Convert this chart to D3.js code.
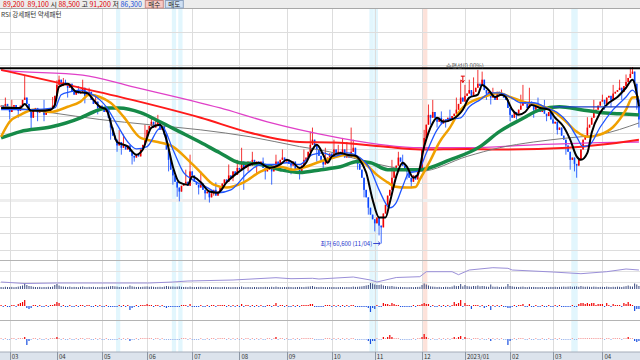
<!DOCTYPE html>
<html>
<head>
<meta charset="utf-8">
<script src="https://cdn.jsdelivr.net/npm/d3@7"></script>
<style>
  body { margin: 0; background: #fff; }
  svg { display: block; font-family: "Noto Sans CJK KR", "DejaVu Sans", sans-serif; }
</style>
</head>
<body>
<svg id="chart"></svg>
<script>
// Daily closes (KRW), one per trading day
const closes = [
  84500,83800,84800,84100,83400,84300,84600,84000,83600,84500,
  85500,85900,84800,83400,82400,83800,84100,83300,83800,83400,
  82900,83800,83400,84100,84500,86200,88100,89000,87900,88600,
  88300,87600,88300,86900,86400,87200,86600,86900,87600,86200,
  86600,86900,85500,84800,85200,84100,84500,83800,83400,84100,
  82400,80700,79300,78600,77600,78200,77200,77700,76900,77600,
  76500,75800,75500,76000,75700,76900,77700,78900,80300,81000,
  81700,80700,81200,81700,80300,81000,79500,76900,75100,73400,
  72400,71300,70300,69600,70600,71000,71300,70600,73100,72400,
  71300,70800,70300,71000,69900,69300,69600,68600,69300,69900,
  68900,69600,70300,71000,71700,71300,72400,72000,73100,72500,
  73700,73400,74800,73700,74300,74800,74100,75100,74400,74800,
  74300,74800,73700,73100,73400,74300,73100,74100,74800,74300,
  75100,75500,74800,75100,74400,74100,74800,73400,73700,73100,
  74100,75100,75500,76500,77700,78600,77600,76900,75800,75100,
  74300,74800,75500,76200,75800,76900,76000,76500,75800,76900,
  75500,76000,75500,76500,77200,75500,74400,73400,72000,69900,
  68600,66800,65600,64800,64100,65100,63700,63400,65800,67300,
  68900,69900,72000,73400,74100,75500,74800,74100,73400,73100,
  72000,71300,72400,71700,73100,73700,76900,78900,81200,82900,
  82400,83400,82400,81700,82400,81400,82100,81700,82400,82100,
  82700,83100,83800,84800,85900,85200,86200,86600,87200,86200,
  86900,87600,88300,87900,89000,87200,86600,86900,85900,86200,
  85500,86900,86200,86600,85900,85500,84100,82900,82400,83400,
  83100,83800,84500,85200,84800,84100,85200,84500,83800,84500,
  84100,83400,83800,83100,82700,83400,82100,81400,81700,80300,
  80700,79300,78600,77600,76500,75100,75500,74400,74100,75100,
  76900,78600,79300,80700,81200,82400,83400,83800,84500,85200,
  85500,84800,85900,86200,85500,86600,86900,87200,87600,86900,
  87900,88600,89300,90000,90400,88300,85500,82100
];

const wickHighs = [[2,85900],[5,85500],[11,89800],[20,85500],[24,86000],[26,88900],[27,89700],[29,89300],
  [30,89000],[33,88100],[36,87900],[38,89000],[41,87600],[44,86400],[55,80300],[57,79500],[67,81200],
  [70,82600],[72,82400],[73,82900],[76,80700],[86,73400],[88,76000],[93,73100],[100,71200],[106,74300],
  [110,75100],[112,77200],[117,76500],[122,75500],[128,76000],[131,76900],[141,76900],[144,80000],
  [145,80700],[151,77200],[155,78600],[157,77700],[159,78900],[161,78200],[163,80700],[164,78600],
  [182,75100],[185,76500],[187,76000],[197,80300],[199,84700],[201,85500],[205,83500],[209,83800],
  [212,85900],[214,89000],[216,88100],[218,89000],[220,89400],[222,90700],[224,90400],[229,87600],
  [233,87300],[242,86400],[243,88100],[246,87600],[250,85900],[253,85500],[257,83500],[261,80700],
  [273,82500],[276,85500],[280,86400],[285,88100],[288,89000],[291,89900],[293,91100],[294,91200]];
const wickLows = [[4,82100],[8,82400],[14,80300],[17,81800],[20,81800],[31,85900],[39,84900],[45,83000],
  [51,78600],[54,76500],[56,76000],[61,74300],[62,74800],[78,73100],[80,70800],[82,68700],[83,67900],
  [92,69100],[95,68200],[97,67700],[99,68900],[102,69600],[108,71400],[113,69900],[115,73100],[119,72600],
  [123,71700],[126,70800],[135,72600],[139,71700],[147,74800],[150,73400],[166,73400],[169,68600],
  [171,65600],[174,62700],[176,62000],[177,60600],[180,67400],[189,71700],[191,70300],[200,81200],
  [203,80700],[207,80700],[226,85500],[228,84700],[237,81800],[240,82100],[248,82400],[254,81800],
  [259,79500],[263,76000],[265,73400],[267,73100],[268,72000],[271,76900],[281,83800],[284,84200],
  [289,85500],[296,83800],[297,80700]];

// Moving averages [day, price]
const ma5 = [[0,84100],[4,84100],[9,84100],[11,84800],[14,83600],[18,83600],[23,83800],[25,84600],[27,87800],
  [31,88300],[35,86900],[40,86700],[43,85500],[46,84300],[49,83800],[52,80300],[54,78200],[59,77400],[63,76000],
  [66,76900],[70,80700],[74,81200],[77,78600],[80,73900],[83,71200],[87,70800],[89,72200],[93,71200],[97,69600],
  [101,69400],[105,71200],[111,73100],[116,74300],[120,74600],[125,73700],[130,74300],[133,75100],[136,74600],
  [139,73700],[142,74600],[145,76900],[147,77700],[150,76000],[152,74600],[154,75700],[158,76300],[161,76000],
  [165,75800],[167,75100],[170,72900],[173,68200],[176,65100],[179,65100],[181,67700],[184,72200],[187,74600],
  [189,73900],[192,72000],[194,72500],[197,77400],[201,81500],[203,82400],[206,81700],[210,82100],[215,83800],
  [218,85900],[222,86400],[224,88100],[227,87200],[230,86000],[233,86400],[235,86000],[238,83800],[241,82900],
  [244,83400],[247,84600],[251,84100],[255,83800],[258,82400],[262,80800],[265,78600],[268,75700],[270,75100],
  [273,76300],[275,79800],[279,83300],[283,85000],[287,86000],[291,87600],[294,89000],[297,84300]];
const ma10 = [[0,83800],[14,83800],[25,84100],[28,86400],[32,86900],[37,87200],[41,86700],[46,85500],[49,84300],
  [54,81200],[59,78200],[63,77000],[68,77400],[73,80300],[75,80800],[80,76900],[85,72900],[89,71700],[96,70300],
  [101,69400],[107,69900],[115,72900],[121,74300],[127,74300],[133,74600],[139,74300],[145,76000],[150,76300],
  [155,75700],[161,76300],[167,75500],[172,73400],[176,69900],[181,66800],[184,67700],[187,70500],[190,72900],
  [194,73100],[198,76300],[203,80300],[208,82100],[214,82400],[218,84300],[223,85500],[228,86700],[232,86700],
  [237,86000],[242,85000],[248,85000],[254,84100],[259,83300],[264,81500],[268,79100],[271,77400],[274,77700],
  [279,80800],[285,83800],[291,86000],[294,87200],[297,85500]];
const ma20 = [[0,79100],[4,81700],[9,82900],[15,83800],[23,83400],[31,84300],[37,85200],[41,86400],[46,86000],
  [51,85000],[57,82600],[65,78900],[73,78200],[80,77400],[87,75100],[93,72900],[99,70800],[105,70300],[113,71200],
  [121,73100],[125,73700],[130,73900],[136,73400],[142,73900],[147,74600],[155,75500],[161,76000],[166,75500],
  [170,74300],[175,72500],[180,71200],[183,70500],[189,70300],[193,70400],[195,71700],[200,75100],[204,78100],
  [209,80700],[214,83800],[218,85000],[224,85900],[232,86700],[237,86000],[243,85200],[250,84600],[256,83800],
  [262,82100],[268,80000],[273,79100],[279,79500],[285,80800],[291,83800],[294,85900],[297,86000]];
const ma60 = [[0,78900],[9,80000],[23,80800],[37,82400],[43,83400],[49,84100],[55,84100],[65,83300],[74,81700],
  [83,80000],[93,78100],[102,76300],[111,74600],[121,74300],[130,73400],[139,72900],[149,73400],[158,73900],
  [166,74800],[172,74600],[180,73400],[189,73400],[195,73400],[209,75100],[223,77400],[232,80000],[242,82100],
  [251,83800],[260,84300],[270,83800],[279,83300],[288,83100],[297,82900]];
const ma120 = [[0,84500],[23,83300],[46,82100],[69,81200],[93,80300],[116,79100],[139,77400],[153,76500],
  [167,75100],[181,73900],[195,73100],[217,75700],[232,77200],[248,78200],[264,78900],[279,79500],[297,81500]];
const ma240 = [[0,90700],[31,88100],[61,85500],[93,82400],[116,79800],[139,78200],[155,78100],[178,77400],
  [195,76900],[217,77000],[232,76900],[264,77200],[279,77700],[297,78600]];
const ma360 = [[0,90600],[9,90400],[38,89800],[61,87800],[102,84100],[124,81700],[155,79100],[178,77700],
  [195,77200],[217,77200],[248,77700],[279,78100],[297,78200]];

// Drawn lines: horizontal level and a shorter one from March 2023
const levelPrice = 91000;
const shortLevel = { from: 257, price: 84300 };

// Month ticks (trading-day index of first session)
const monthStarts = [4, 26, 47, 68, 89, 111, 133, 154, 174, 196, 216, 237, 257, 280];
const monthLabels = ['03', '04', '05', '06', '07', '08', '09', '10', '11', '12', '2023/01', '02', '03', '04'];

// RSI pattern highlights [firstDay, lastDay]
const bullBands = [[197, 198]];
const bearBands = [[54, 55], [80, 81], [83, 84], [172, 173], [174, 175], [266, 268]];

// Volume (10k shares)
const volumes = [
  20,18,22,20,19,21,18,20,24,28, 35,60,40,30,28,22,20,19,21,18,
  20,19,22,20,24,40,50,35,26,24, 22,20,24,19,21,20,18,22,26,20,
  19,21,20,22,18,20,19,21,20,22, 24,28,30,26,24,20,22,21,20,22,
  35,26,22,20,21,20,22,24,26,22, 25,22,20,21,22,20,24,30,26,24,
  25,22,24,26,22,20,21,19,24,20, 19,20,21,22,20,21,19,22,20,19,
  20,19,18,20,21,19,20,18,19,20, 19,20,25,19,18,20,19,18,20,19,
  18,20,19,21,20,18,22,19,24,20, 19,18,20,19,21,20,18,19,20,21,
  20,19,22,24,26,30,22,20,19,21, 20,19,18,20,19,20,18,19,20,19,
  18,20,19,20,24,21,22,24,26,30, 35,40,60,55,45,40,40,45,35,30,
  28,26,30,24,22,20,21,19,20,18, 19,20,18,20,21,22,40,55,45,35,
  26,24,22,20,21,19,20,22,21,20, 24,35,28,30,50,26,40,28,26,24,
  30,28,35,26,30,28,24,22,45,24, 22,24,20,22,21,24,50,30,26,22,
  21,20,22,24,20,19,22,20,21,20, 19,20,21,18,20,19,21,20,22,20,
  21,22,24,22,24,26,22,24,26,22, 30,24,22,24,22,21,24,22,20,21,
  22,20,24,21,20,22,21,24,22,20, 24,28,35,26,24,55,45,30
];

// Volume trend line [day, value]
const volTrend = [[0,7],[11,5.5],[26,6],[69,6],[80,7],[87,8],[108,9],[128,11.3],[135,10.3],[145,10.7],
  [148,10],[164,12],[172,9],[175,7],[184,11.5],[195,12.3],[198,17.3],[210,17.3],[213,14.3],[218,19],
  [229,21.3],[236,20.7],[238,19],[257,17],[270,15.3],[282,17.3],[291,20],[297,19]];

// Two oscillator rows, one value per day
const osc1 = [
  1,-1,1,-1,-1,1,1,-1,2,3, 4,6,-2,-3,-2,1,1,-1,1,-1, -1,1,-1,1,1,2,4,3,-1,1,
  -1,-1,1,-1,-1,1,-1,1,1,-1, 1,1,-1,-1,1,-1,1,-1,-1,1, -1,-1,-1,-1,-1,1,-1,1,-1,1,
  -4,-2,-1,1,-1,1,1,1,2,1, 1,-1,1,1,-1,1,-1,-2,-1,-1, -1,-1,-1,-1,1,1,1,-1,2,-1,
  -1,-1,-1,1,-1,-1,1,-1,1,1, -1,1,1,1,1,-1,1,-1,1,-1, 1,-1,2,-1,1,1,-1,1,-1,1,
  -1,1,-1,-1,1,1,-1,1,3,-1, 1,1,-1,1,-1,-1,1,-1,1,-1, 1,1,1,1,2,2,-1,-1,-1,-1,
  -1,1,1,1,-1,1,-1,1,-1,1, -1,1,-1,1,1,-1,-1,-1,-1,-1, -1,-2,-6,-2,-3,1,-1,-1,3,2,
  2,1,3,2,1,1,-1,-1,-1,-1, -1,-1,1,-1,1,1,2,3,2,2, -1,1,-1,-1,1,-1,1,-1,1,-1,
  1,4,2,3,6,-1,3,1,1,-3, 1,1,1,-1,1,-2,-1,1,-4,1, -1,1,-1,1,-1,-1,-2,-2,-1,1,
  -1,1,1,2,-1,-1,2,-1,-1,1, -1,-1,1,-1,-1,1,-1,-1,1,-1, 1,-1,-1,-1,-1,-1,1,-1,-1,2,
  3,3,2,3,2,3,3,1,2,2, 2,-1,3,1,-1,2,1,1,1,-1, 3,2,4,2,1,-5,-3,-3
];
const osc2 = [
  1,-1,1,-1,-1,1,1,-1,1,1, 1,2,-6,-2,-1,1,1,-1,1,-1, -1,1,-1,1,1,1,2,1,-1,1,
  -1,-1,1,-1,-1,1,-1,1,1,-1, 1,1,-1,-1,1,-1,1,-1,-1,1, -1,-1,-1,-1,-1,1,-1,1,-1,1,
  -2,-1,-1,1,-1,1,1,1,1,1, 1,-1,1,1,-1,1,-1,-1,-1,-1, -1,-1,-1,-1,1,1,1,-1,1,-1,
  -1,-1,-1,1,-1,-1,1,-1,1,1, -1,1,1,1,1,-1,1,-1,1,-1, 1,-1,1,-1,1,1,-1,1,-1,1,
  -1,1,-1,-1,1,1,-1,1,2,-1, 1,1,-1,1,-1,-1,1,-1,1,-1, 1,1,1,1,1,1,-1,-1,-1,-1,
  -1,1,1,1,-1,1,-1,1,-1,1, -1,1,-1,1,1,-1,-1,-1,-1,-1, -1,-2,-5,-2,-2,1,-1,-1,2,1,
  2,4,2,1,1,1,-1,-1,-1,-1, -1,-1,1,-1,1,1,2,5,2,1, -1,1,-1,-1,1,-1,1,-1,1,-1,
  1,2,1,2,3,-1,2,1,1,-1, 1,1,1,-1,1,-1,-1,1,-2,1, -1,1,-1,1,-1,-1,-6,-2,-1,1,
  -1,1,1,1,-1,-1,1,-1,-1,1, -1,-1,1,-1,-1,1,-1,-1,1,-1, 1,-1,-1,-1,-1,-1,1,-1,-1,1,
  1,1,1,1,1,1,1,1,1,1, 1,-1,1,1,-1,1,1,1,1,-1, 1,1,2,1,1,-2,-3,-2
];

const quoteParts = [['89,200  ', '#e00000'], ['89,100 ', '#e00000'], ['시 ', '#222'], ['88,500 ', '#e00000'],
  ['고 ', '#222'], ['91,200 ', '#e00000'], ['저 ', '#222'], ['86,300', '#1a4fd8']];

const width = 640;
const height = 360;
const mainTop = 9;
const mainBottom = 260;

const svg = d3.select('#chart').attr('width', width).attr('height', height);

const x = d3.scaleLinear().domain([-0.5, closes.length - 0.5]).range([0, width]);
const y = d3.scaleLinear().domain([60600, 91200]).range([243.5, 67]);

// background stripes for RSI patterns
const bands = svg.append('g');
bands.selectAll('.bear').data(bearBands).join('rect')
  .attr('x', d => x(d[0] - 0.5)).attr('width', d => x(d[1] + 0.5) - x(d[0] - 0.5))
  .attr('y', mainTop).attr('height', 352 - mainTop).attr('fill', '#e2f6fd');
bands.selectAll('.bull').data(bullBands).join('rect')
  .attr('x', d => x(d[0] - 0.5)).attr('width', d => x(d[1] + 0.5) - x(d[0] - 0.5))
  .attr('y', mainTop).attr('height', 352 - mainTop).attr('fill', '#fde2da');

// grid
const grid = svg.append('g').attr('stroke-width', 1);
d3.range(14).forEach(k => {
  const gy = Math.round(31.7 + 16.8 * k) + 0.5;
  grid.append('line').attr('x1', 0).attr('x2', width).attr('y1', gy).attr('y2', gy)
    .attr('stroke', k === 10 ? '#eeeeee' : '#dddddd').attr('stroke-width', k === 10 ? 3 : 1);
});
grid.selectAll('.vx').data(monthStarts).join('line')
  .attr('x1', d => Math.round(x(d)) + 0.5).attr('x2', d => Math.round(x(d)) + 0.5)
  .attr('y1', mainTop).attr('y2', 352).attr('stroke', '#dddddd');
[[260, '#b4b4b4'], [271, '#e2e2e2'], [282, '#e2e2e2'], [320, '#b4b4b4']].forEach(([ly, c]) => {
  grid.append('line').attr('x1', 0).attr('x2', width).attr('y1', ly + 0.5).attr('y2', ly + 0.5).attr('stroke', c);
});

// toolbar
svg.append('rect').attr('width', width).attr('height', 8.5).attr('fill', '#ececec');
svg.append('line').attr('x1', 0).attr('x2', width).attr('y1', 8.5).attr('y2', 8.5).attr('stroke', '#a8a8a8');
const quote = svg.append('text').attr('x', 3).attr('y', 7).attr('font-size', 7).style('white-space', 'pre');
quoteParts.forEach(([t, c]) => quote.append('tspan').attr('fill', c).text(t));
let bx = 3 + quote.node().getComputedTextLength() + 3;
[['매수', '#f7c9c4', '#c98a86'], ['매도', '#cfe0f4', '#8aa0bf']].forEach(([t, f, s]) => {
  svg.append('rect').attr('x', bx + 0.5).attr('y', 0.5).attr('width', 18).attr('height', 7.5)
    .attr('fill', f).attr('stroke', s);
  svg.append('text').attr('x', bx + 9.5).attr('y', 6.8).attr('text-anchor', 'middle')
    .attr('font-size', 6.5).attr('fill', '#222').text(t);
  bx += 20;
});

svg.append('text').attr('x', 1).attr('y', 16.5).attr('font-size', 6.5).attr('fill', '#333')
  .text('RSI 강세패턴 약세패턴');

// price panel
svg.append('clipPath').attr('id', 'clipMain').append('rect')
  .attr('x', 0).attr('y', mainTop).attr('width', width).attr('height', mainBottom - mainTop);
const main = svg.append('g').attr('clip-path', 'url(#clipMain)');

const highMap = new Map(wickHighs);
const lowMap = new Map(wickLows);
const candles = closes.map((c, i) => {
  const o = i ? closes[i - 1] : c;
  return {
    i, o, c,
    hi: Math.max(o, c, highMap.get(i) ?? -Infinity),
    lo: Math.min(o, c, lowMap.get(i) ?? Infinity)
  };
});
const candleColor = d => d.c >= d.o ? '#f00000' : '#0a46ff';

main.selectAll('.wick').data(candles).join('line')
  .attr('x1', d => x(d.i)).attr('x2', d => x(d.i))
  .attr('y1', d => y(d.hi)).attr('y2', d => y(d.lo))
  .attr('stroke', candleColor).attr('stroke-width', 0.8);
main.selectAll('.body').data(candles).join('rect')
  .attr('x', d => x(d.i) - 0.8).attr('width', 1.6)
  .attr('y', d => y(Math.max(d.o, d.c)))
  .attr('height', d => Math.max(1, Math.abs(y(d.o) - y(d.c))))
  .attr('fill', candleColor);

const line = d3.line().x(d => x(d[0])).y(d => y(d[1])).curve(d3.curveMonotoneX);
[[ma360, '#e040c8', 1.3], [ma240, '#ff1a1a', 2], [ma120, '#7a7a7a', 1], [ma60, '#168a48', 3.5],
 [ma20, '#f0a000', 2.5], [ma10, '#1f55ff', 1.3], [ma5, '#000000', 2]].forEach(([data, color, w]) => {
  main.append('path').datum(data).attr('d', line)
    .attr('fill', 'none').attr('stroke', color).attr('stroke-width', w);
});

main.append('line').attr('x1', x(shortLevel.from)).attr('x2', width)
  .attr('y1', y(shortLevel.price)).attr('y2', y(shortLevel.price))
  .attr('stroke', '#1c3cc8').attr('stroke-width', 1.3);

main.append('line').attr('x1', 0).attr('x2', width)
  .attr('y1', y(levelPrice)).attr('y2', y(levelPrice))
  .attr('stroke', '#000').attr('stroke-width', 2);
main.append('text').attr('x', 446).attr('y', y(levelPrice) - 0.5)
  .attr('font-size', 6).attr('fill', '#555').text('수평선(0.00%)');

// red marker under the level line
const mx = x(215);
const my = y(levelPrice) + 8;
main.append('path')
  .attr('d', `M${mx - 2},${my} H${mx + 2} M${mx},${my} V${my + 6} M${mx - 1.6},${my + 4} L${mx},${my + 6.5} L${mx + 1.6},${my + 4}`)
  .attr('stroke', '#e00000').attr('stroke-width', 1).attr('fill', 'none');

// low annotation
const lowX = x(177);
const lowY = y(60600);
main.append('text').attr('x', lowX - 9).attr('y', lowY + 2).attr('text-anchor', 'end')
  .attr('font-size', 6).attr('fill', '#2233cc').text('최저 60,600 (11/04)');
main.append('path')
  .attr('d', `M${lowX - 8},${lowY} H${lowX - 1} M${lowX - 3},${lowY - 1.8} L${lowX - 1},${lowY} L${lowX - 3},${lowY + 1.8}`)
  .attr('stroke', '#2233cc').attr('stroke-width', 0.9).attr('fill', 'none');

// volume ticks + trend
const volH = d3.scaleLinear().domain([0, 100]).range([0, 10]);
svg.append('g').selectAll('rect').data(volumes).join('rect')
  .attr('x', (d, i) => x(i) - 0.5).attr('width', 1)
  .attr('y', d => 289 - volH(d)).attr('height', d => volH(d))
  .attr('fill', '#3a4a80');
const trendY = d3.scaleLinear().domain([0, 30]).range([289, 259]);
svg.append('path').datum(volTrend)
  .attr('d', d3.line().x(d => x(d[0])).y(d => trendY(d[1])))
  .attr('fill', 'none').attr('stroke', '#9a8fd8').attr('stroke-width', 1);

// oscillator rows
function oscRow(values, base, light) {
  const s = d3.scaleLinear().domain([-10, 10]).range([base + 10, base - 10]);
  svg.append('g').selectAll('rect').data(values).join('rect')
    .attr('x', (d, i) => x(i) - 0.6).attr('width', 1.2)
    .attr('y', d => Math.min(s(d), base))
    .attr('height', d => Math.max(1, Math.abs(s(d) - base)))
    .attr('fill', d => d > 0 ? (light && d < 2 ? '#f5a0a0' : '#f00000') : (light && d > -2 ? '#98b4ec' : '#1a50e0'));
}
oscRow(osc1, 306, false);
oscRow(osc2, 339, true);

// bottom axis band
svg.append('rect').attr('x', 0).attr('y', 352).attr('width', width).attr('height', 8).attr('fill', '#dce3ec');
svg.append('line').attr('x1', 0).attr('x2', width).attr('y1', 352).attr('y2', 352).attr('stroke', '#a4acb8');
const axis = svg.append('g').selectAll('g').data(monthStarts).join('g');
axis.append('line')
  .attr('x1', d => Math.round(x(d)) + 0.5).attr('x2', d => Math.round(x(d)) + 0.5)
  .attr('y1', 352).attr('y2', 360).attr('stroke', '#8c96a4');
axis.append('text').attr('x', d => x(d) + 2).attr('y', 359)
  .attr('font-size', 6).attr('fill', '#333').text((d, i) => monthLabels[i]);
</script>
</body>
</html>
